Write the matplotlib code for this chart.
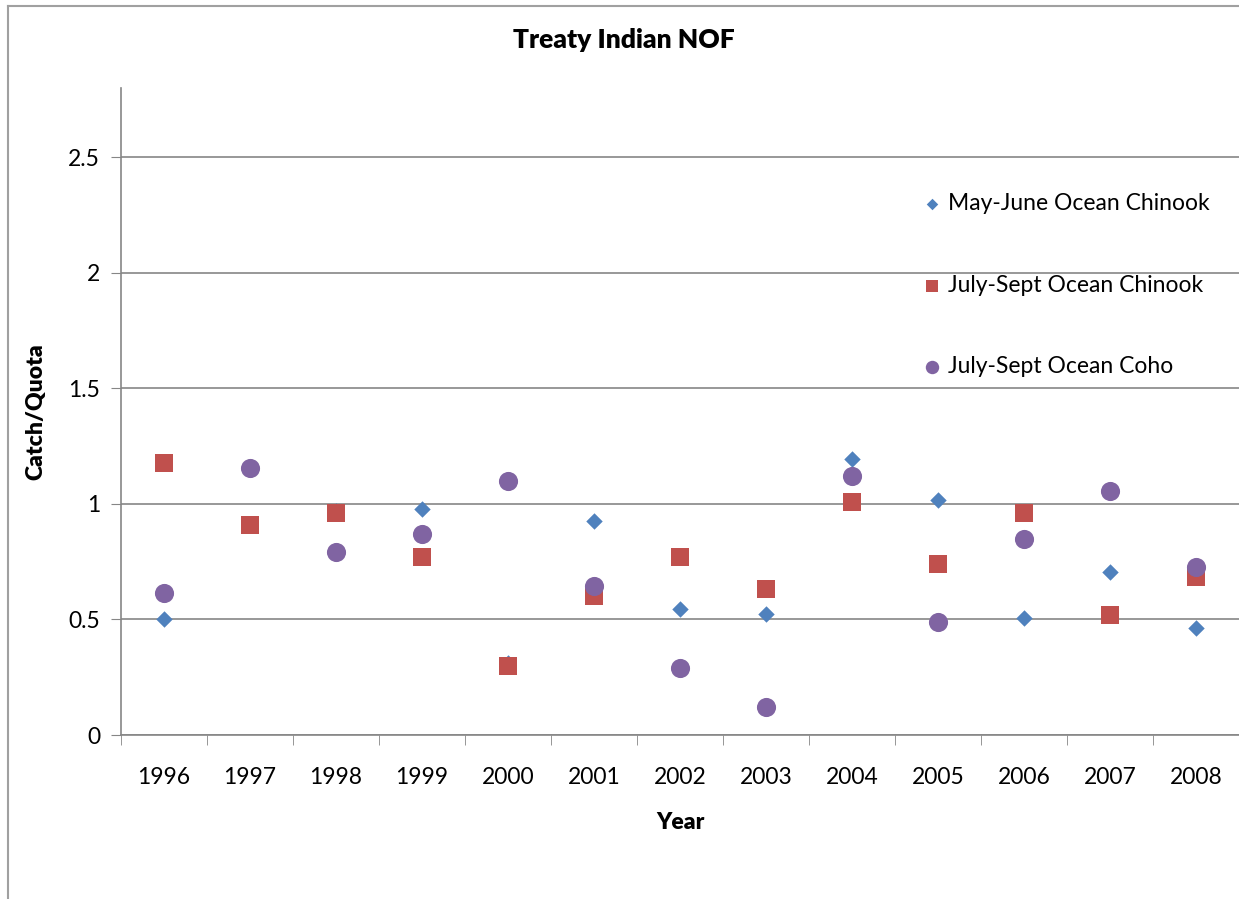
import numpy as np
import matplotlib
matplotlib.use("Agg")
import matplotlib.pyplot as plt
from matplotlib.lines import Line2D

plt.rcParams['font.family'] = ['Lato', 'DejaVu Sans']

years = ["1996", "1997", "1998", "1999", "2000", "2001", "2002",
         "2003", "2004", "2005", "2006", "2007", "2008"]
may_june_chinook = [0.50, 1.15, 0.97, 0.98, 0.31, 0.925, 0.545,
                    0.525, 1.195, 1.015, 0.505, 0.705, 0.465]
july_sept_chinook = [1.175, 0.91, 0.96, 0.77, 0.30, 0.60, 0.77,
                     0.63, 1.01, 0.74, 0.96, 0.52, 0.685]
july_sept_coho = [0.615, 1.155, 0.79, 0.87, 1.10, 0.645, 0.29,
                  0.12, 1.12, 0.49, 0.85, 1.055, 0.725]

grid_col = "#868686"

fig = plt.figure(figsize=(12.39, 8.99), dpi=100)
ax = fig.add_axes([121 / 1239, 164 / 899, 1 - 121 / 1239, (735 - 88) / 899])

x = np.arange(len(years))
ax.scatter(x, may_june_chinook, marker="D", s=70, color="#4F81BD",
           label="May-June Ocean Chinook", zorder=3, linewidths=0)
ax.scatter(x, july_sept_chinook, marker="s", s=150, color="#C0504D",
           label="July-Sept Ocean Chinook", zorder=4, linewidths=0)
ax.scatter(x, july_sept_coho, marker="o", s=190, color="#8064A2",
           label="July-Sept Ocean Coho", zorder=5, linewidths=0)

ax.set_xlim(-0.5, len(years) - 0.5)
ax.set_ylim(0, 2.8)
ax.set_yticks([0, 0.5, 1, 1.5, 2, 2.5])
ax.set_yticklabels(["0", "0.5", "1", "1.5", "2", "2.5"])
ax.set_xticks(x)
ax.set_xticklabels(years)
ax.set_xticks(np.arange(-0.5, len(years), 1), minor=True)
ax.tick_params(axis="x", which="major", length=0, pad=23, labelsize=16.5)
ax.tick_params(axis="x", which="minor", length=7, color=grid_col, direction="out")
ax.tick_params(axis="y", length=7, color=grid_col, pad=8, labelsize=16.5)
ax.yaxis.grid(True, color=grid_col, linewidth=1.2)
ax.set_axisbelow(True)
for side in ["top", "right"]:
    ax.spines[side].set_visible(False)
for side in ["left", "bottom"]:
    ax.spines[side].set_color(grid_col)
    ax.spines[side].set_linewidth(1.2)

ax.set_xlabel("Year", fontsize=16.5, fontweight="heavy", labelpad=17)
ax.set_ylabel("Catch/Quota", fontsize=16.5, fontweight="heavy", labelpad=16)
fig.text(624 / 1239, 1 - 40 / 899, "Treaty Indian NOF", ha="center", va="center",
         fontsize=19, fontweight="heavy")

ax.legend(loc="upper left", bbox_to_anchor=(0.707, 0.852), frameon=False,
          fontsize=16.5, labelspacing=2.65, handlelength=1.0, handletextpad=0.2,
          markerscale=0.7, borderaxespad=0)

# chart frame edges
fig.add_artist(Line2D([8 / 1239, 8 / 1239], [0, 1 - 6 / 899], transform=fig.transFigure,
                      color="#A0A0A0", linewidth=1.5))
fig.add_artist(Line2D([8 / 1239, 1], [1 - 6 / 899, 1 - 6 / 899], transform=fig.transFigure,
                      color="#A0A0A0", linewidth=1.5))

fig.savefig("out.png", dpi=100)
